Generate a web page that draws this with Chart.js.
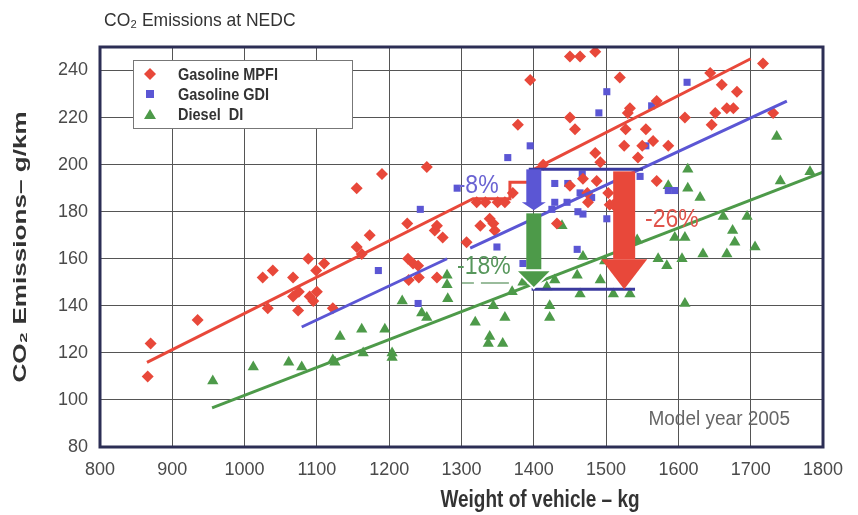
<!DOCTYPE html>
<html>
<head>
<meta charset="utf-8">
<script src="https://cdn.jsdelivr.net/npm/chart.js@4.4.0/dist/chart.umd.min.js"></script>
<style>
  body { margin: 0; background: #fff; }
  #wrap { width: 858px; height: 515px; }
</style>
</head>
<body>
<div id="wrap"><canvas id="myChart" width="858" height="515"></canvas></div>
<script>
// tick values
var xTicks = [800, 900, 1000, 1100, 1200, 1300, 1400, 1500, 1600, 1700, 1800];
var yTicks = [80, 100, 120, 140, 160, 180, 200, 220, 240];

var seriesNames = ["Gasoline MPFI", "Gasoline GDI", "Diesel  DI"];

// [weight kg, CO2 g/km]
var mpfiPoints = [[866,110],[870,124],[935,134],[1025,152],[1032,139],[1039,155],[1067,152],[1067,144],[1074,138],[1075,146],
  [1088,160],[1090,144],[1095,142],[1099,155],[1100,146],[1110,158],[1122,139],[1155,190],[1155,165],[1162,162],
  [1173,170],[1190,196],[1225,175],[1226,160],[1227,151],[1233,158],[1240,157],[1241,152],[1252,199],[1263,172],
  [1266,174],[1266,152],[1274,169],[1307,167],[1321,184],[1326,174],[1333,184],[1339,177],[1344,175],[1346,172],
  [1350,184],[1360,184],[1371,188],[1378,217],[1395,236],[1413,200],[1432,175],[1450,246],[1464,246],[1485,248],
  [1450,220],[1457,215],[1450,191],[1468,194],[1474,188],[1475,184],[1485,205],[1487,193],[1492,201],
  [1503,188],[1505,183],[1510,183],[1519,237],[1525,208],[1527,215],[1530,222],[1533,224],[1544,203],[1550,208],
  [1555,215],[1565,210],[1570,227],[1570,193],[1586,208],[1609,220],[1644,239],[1646,217],[1651,222],[1660,234],
  [1667,224],[1676,224],[1681,231],[1717,243],[1731,222]];

var gdiPoints = [[1185,155],[1240,141],[1243,181],[1294,190],[1349,165],[1364,203],[1385,158],[1395,208],[1425,181],
  [1429,192],[1429,184],[1447,192],[1446,184],[1460,164],[1461,180],[1464,188],[1467,196],[1468,179],[1480,186],
  [1490,222],[1501,231],[1501,177],[1547,195],[1555,208],[1563,225],[1586,189],[1595,189],[1612,235]];

var dieselPoints = [[956,108],[1012,114],[1061,116],[1079,114],[1122,117],[1125,116],[1132,127],[1162,130],[1164,120],
  [1194,130],[1204,120],[1204,118],[1218,142],[1245,137],[1252,135],[1280,149],[1281,143],[1280,153],[1319,133],
  [1337,124],[1339,127],[1344,140],[1357,124],[1360,135],[1370,146],[1385,150],[1418,148],[1422,140],
  [1422,135],[1429,151],[1439,174],[1460,153],[1464,145],[1468,161],[1492,151],[1498,159],[1510,145],[1533,145],
  [1543,168],[1572,160],[1584,157],[1586,191],[1595,169],[1605,160],[1609,169],[1609,141],[1613,198],[1613,190],
  [1630,186],[1634,162],[1662,178],[1667,162],[1675,172],[1678,167],[1695,178],[1706,165],[1736,212],[1741,193],
  [1782,197]];

// trend lines (red one has the little step drawn in the original)
var mpfiTrend = [[865,116],[1316,185.5],[1367,185.5],[1367,192.5],[1392,192.5],[1400,198],[1700,245]];
var gdiTrend = [[1079,131],[1280,160],[1296,null],[1312,164.5],[1750,227]];
var dieselTrend = [[955,96.6],[1800,196.8]];

// annotation: reduction arrows at 1400 kg and 1525 kg
var arrowWeights = [1400, 1525];
var arrowLevels = [198, 181, 147];
var pctLabels = ["-8%", "-18%", "-26%"];
var pctPos = [[1323, 191], [1331, 156.5], [1591, 176.5]];

var red = "#e8483a", blue = "#5b56d4", green = "#4d9a49", navy = "#3b3a9e";
var FONT = "'Liberation Sans', Arial, sans-serif";

function pts(arr) {
  return arr.map(function (p) { return { x: p[0], y: p[1] }; });
}

// text with a vertical stretch like the scanned original
function tallText(ctx, s, x, y, sy, rot) {
  ctx.save();
  ctx.translate(x, y);
  if (rot) ctx.rotate(rot);
  if (rot) ctx.scale(sy, 1); else ctx.scale(1, sy);
  ctx.fillText(s, 0, 0);
  ctx.restore();
}

var decor = {
  id: "decor",
  afterDatasetsDraw: function (chart) {
    var ctx = chart.ctx, xs = chart.scales.x, ys = chart.scales.y, a = chart.chartArea;
    ctx.save();

    // horizontal reference lines
    ctx.strokeStyle = navy;
    ctx.lineWidth = 3;
    ctx.beginPath();
    ctx.moveTo(xs.getPixelForValue(1393), ys.getPixelForValue(arrowLevels[0]));
    ctx.lineTo(xs.getPixelForValue(1551), ys.getPixelForValue(arrowLevels[0]));
    ctx.moveTo(xs.getPixelForValue(1397), ys.getPixelForValue(arrowLevels[2]));
    ctx.lineTo(xs.getPixelForValue(1540), ys.getPixelForValue(arrowLevels[2]));
    ctx.stroke();

    var bx = xs.getPixelForValue(arrowWeights[0]);
    var t = ys.getPixelForValue(arrowLevels[0]), m = ys.getPixelForValue(arrowLevels[1]), b = ys.getPixelForValue(arrowLevels[2]);

    // blue arrow
    ctx.fillStyle = blue;
    ctx.fillRect(bx - 7.5, t, 15, m - t - 6);
    ctx.beginPath();
    ctx.moveTo(bx - 12, m - 7); ctx.lineTo(bx + 12, m - 7); ctx.lineTo(bx, m + 1); ctx.closePath();
    ctx.fill();

    // green arrow
    ctx.fillStyle = green;
    ctx.fillRect(bx - 7.5, m + 4, 15, b - m - 22);
    ctx.beginPath();
    ctx.moveTo(bx - 18, b - 19); ctx.lineTo(bx + 18, b - 19); ctx.lineTo(bx, b - 1); ctx.closePath();
    ctx.fill();
    ctx.strokeStyle = "#fff"; ctx.lineWidth = 2;
    ctx.stroke();

    // red arrow
    var rx = xs.getPixelForValue(arrowWeights[1]);
    ctx.fillStyle = red;
    ctx.fillRect(rx - 11, t + 2, 22, b - t - 32);
    ctx.beginPath();
    ctx.moveTo(rx - 23, b - 30); ctx.lineTo(rx + 23, b - 30); ctx.lineTo(rx, b); ctx.closePath();
    ctx.fill();

    // percentage labels
    ctx.font = "23px " + FONT;
    ctx.textAlign = "center";
    ctx.textBaseline = "middle";
    var cols = ["#6a63d2", "#57975c", "#e0544c"];
    pctLabels.forEach(function (s, i) {
      ctx.fillStyle = cols[i];
      tallText(ctx, s, xs.getPixelForValue(pctPos[i][0]), ys.getPixelForValue(pctPos[i][1]), 1.15);
    });
    // dashes under -18%
    var dx = xs.getPixelForValue(pctPos[1][0]), dy = ys.getPixelForValue(pctPos[1][1]) + 16;
    ctx.strokeStyle = "#7aa77c"; ctx.lineWidth = 1.5;
    ctx.beginPath();
    ctx.moveTo(dx - 22, dy); ctx.lineTo(dx - 10, dy);
    ctx.moveTo(dx - 3, dy); ctx.lineTo(dx + 25, dy);
    ctx.stroke();

    // legend box
    ctx.fillStyle = "#fff";
    ctx.fillRect(133, 60, 219, 68);
    ctx.strokeStyle = "#777"; ctx.lineWidth = 1;
    ctx.strokeRect(133.5, 60.5, 219, 68);
    ctx.font = "bold 14.5px " + FONT;
    ctx.textAlign = "left";
    var mk = [red, blue, green];
    seriesNames.forEach(function (s, i) {
      var y = 74 + i * 20;
      ctx.fillStyle = mk[i];
      ctx.beginPath();
      if (i === 0) { ctx.moveTo(150, y - 6); ctx.lineTo(156, y); ctx.lineTo(150, y + 6); ctx.lineTo(144, y); }
      else if (i === 1) { ctx.rect(146, y - 4, 8, 8); }
      else { ctx.moveTo(150, y - 5); ctx.lineTo(156, y + 5); ctx.lineTo(144, y + 5); }
      ctx.closePath(); ctx.fill();
      ctx.fillStyle = "#333";
      tallText(ctx, s, 178, y + 1, 1.15);
    });

    // frame
    ctx.strokeStyle = "#2c2e55"; ctx.lineWidth = 3;
    ctx.strokeRect(a.left, a.top, a.right - a.left, a.bottom - a.top);

    // texts
    ctx.fillStyle = "#333";
    ctx.font = "17.5px " + FONT;
    ctx.textAlign = "left";
    tallText(ctx, "CO\u2082 Emissions at NEDC", 104, 21, 1.05);
    ctx.fillStyle = "#666";
    ctx.font = "19px " + FONT;
    ctx.textAlign = "right";
    tallText(ctx, "Model year 2005", a.right - 33, a.bottom - 27, 1.05);
    ctx.fillStyle = "#333";
    ctx.font = "bold 19px " + FONT;
    ctx.textAlign = "center";
    tallText(ctx, "Weight of vehicle \u2013 kg", 540, 500, 1.3);
    ctx.font = "bold 18px " + FONT;
    tallText(ctx, "CO\u2082 Emissions\u2013 g/km", 21, (a.top + a.bottom) / 2, 1.45, -Math.PI / 2);
    ctx.restore();
  }
};

new Chart("myChart", {
  type: "scatter",
  data: {
    datasets: [
      { label: "trend MPFI", data: pts(mpfiTrend), showLine: true, borderColor: red, borderWidth: 3, pointRadius: 0, spanGaps: false },
      { label: "trend GDI", data: pts(gdiTrend), showLine: true, borderColor: blue, borderWidth: 3, pointRadius: 0, spanGaps: false },
      { label: "trend DI", data: pts(dieselTrend), showLine: true, borderColor: green, borderWidth: 3, pointRadius: 0 },
      { label: seriesNames[0], data: pts(mpfiPoints), pointStyle: "rectRot", pointRadius: 6, backgroundColor: red, borderWidth: 0 },
      { label: seriesNames[1], data: pts(gdiPoints), pointStyle: "rect", pointRadius: 5, backgroundColor: blue, borderWidth: 0 },
      { label: seriesNames[2], data: pts(dieselPoints), pointStyle: "triangle", pointRadius: 6.5, backgroundColor: green, borderWidth: 0 }
    ]
  },
  options: {
    responsive: false,
    animation: false,
    layout: { padding: { top: 47, right: 35, left: 0, bottom: 0 } },
    plugins: { legend: { display: false }, title: { display: false }, tooltip: { enabled: false } },
    scales: {
      x: {
        type: "linear", min: 800, max: 1800,
        afterBuildTicks: function (s) { s.ticks = xTicks.map(function (v) { return { value: v }; }); },
        afterFit: function (s) { s.height = 68; },
        grid: { color: "#555", lineWidth: 1, drawTicks: false },
        border: { display: false },
        ticks: { padding: 12, color: "#4a4a4a", font: { size: 18, family: FONT },
          callback: function (v) { return String(v); } }
      },
      y: {
        type: "linear", min: 80, max: 250,
        afterBuildTicks: function (s) { s.ticks = yTicks.map(function (v) { return { value: v }; }); },
        afterFit: function (s) { s.width = 100; },
        grid: { color: "#555", lineWidth: 1, drawTicks: false },
        border: { display: false },
        ticks: { padding: 12, color: "#4a4a4a", font: { size: 18, family: FONT } }
      }
    }
  },
  plugins: [decor]
});
</script>
</body>
</html>
